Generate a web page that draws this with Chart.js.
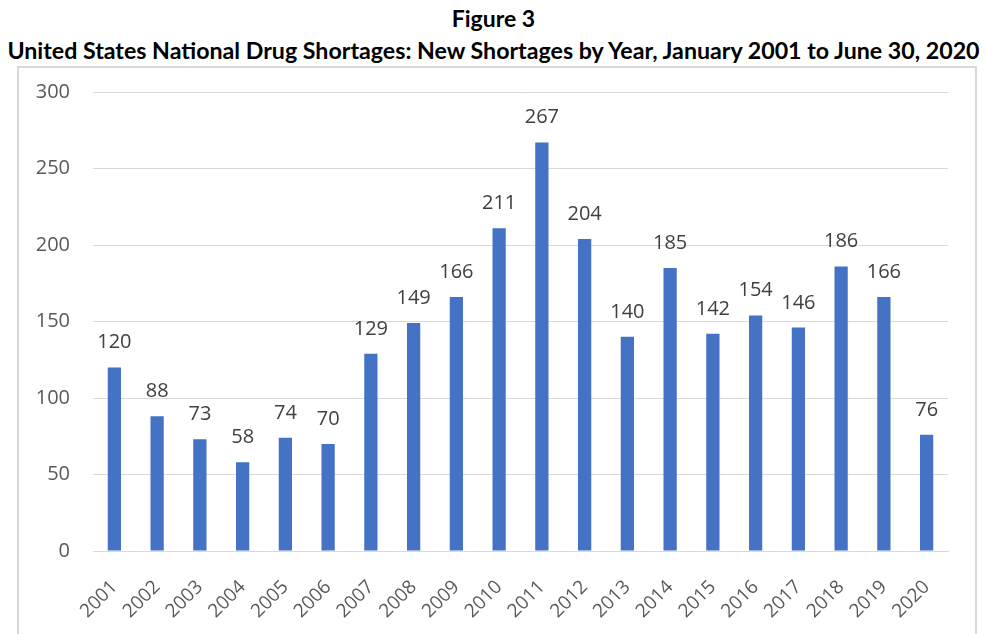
<!DOCTYPE html>
<html>
<head>
<meta charset="utf-8">
<script src="https://cdn.jsdelivr.net/npm/chart.js@4/dist/chart.umd.min.js"></script>
<style>
  html, body { margin: 0; padding: 0; background: #fff; }
  body { width: 987px; height: 634px; position: relative; overflow: hidden; }
  .title { position: absolute; left: 0; width: 987px; text-align: center; font-family: Lato, "Open Sans", sans-serif; font-weight: bold; color: #000; white-space: nowrap; line-height: 28px; }
  #t1 { top: 4px; font-size: 23px; }
  #t2 { top: 36px; font-size: 23.2px; }
  #box { position: absolute; left: 17px; top: 66px; width: 960px; height: 600px; border: 2px solid #d9d9d9; box-sizing: border-box; }
  #chart { position: absolute; left: 0; top: 0; }
</style>
</head>
<body>
<div class="title" id="t1">Figure 3</div>
<div class="title" id="t2">United States National Drug Shortages: New Shortages by Year, January 2001 to June 30, 2020</div>
<div id="box"><canvas id="chart" width="956" height="566"></canvas></div>
<script>
const years = ["2001", "2002", "2003", "2004", "2005", "2006", "2007", "2008", "2009", "2010",
  "2011", "2012", "2013", "2014", "2015", "2016", "2017", "2018", "2019", "2020"];
const newShortages = [120, 88, 73, 58, 74, 70, 129, 149, 166, 211, 267, 204, 140, 185, 142, 154, 146, 186, 166, 76];
const yTicks = [0, 50, 100, 150, 200, 250, 300];

// values above each bar
const valueLabels = {
  id: "valueLabels",
  afterDatasetsDraw(chart) {
    const ctx = chart.ctx;
    const meta = chart.getDatasetMeta(0);
    ctx.save();
    ctx.font = "20px 'Open Sans'";
    ctx.fillStyle = "#404040";
    ctx.textAlign = "center";
    ctx.textBaseline = "alphabetic";
    meta.data.forEach((bar, i) => {
      ctx.fillText(String(newShortages[i]), bar.x, bar.y - 19);
    });
    ctx.restore();
  }
};

new Chart(document.getElementById("chart"), {
  type: "bar",
  data: {
    labels: years,
    datasets: [{
      data: newShortages,
      backgroundColor: "#4472C4",
      barPercentage: 0.31,
      categoryPercentage: 1
    }]
  },
  options: {
    responsive: false,
    maintainAspectRatio: false,
    animation: false,
    layout: { padding: { top: 24, right: 27, left: 0, bottom: 0 } },
    plugins: {
      legend: { display: false },
      tooltip: { enabled: false }
    },
    scales: {
      x: {
        grid: { display: false, drawTicks: false },
        border: { color: "#d9d9d9", width: 1 },
        ticks: {
          color: "#595959",
          font: { family: "'Open Sans'", size: 19 },
          maxRotation: 45,
          minRotation: 45,
          padding: 25
        },
        afterFit(scale) {
          scale.height = 83;
          scale.paddingLeft = 0;
          scale.paddingRight = 0;
        }
      },
      y: {
        min: 0,
        max: 300,
        afterBuildTicks(scale) { scale.ticks = yTicks.map(v => ({ value: v })); },
        grid: { color: "#d9d9d9", drawTicks: false },
        border: { display: false },
        ticks: {
          color: "#595959",
          font: { family: "'Open Sans'", size: 20 },
          padding: 23
        },
        afterFit(scale) {
          scale.width = 74;
          scale.paddingTop = 0;
          scale.paddingBottom = 0;
        }
      }
    }
  },
  plugins: [valueLabels]
});
</script>
</body>
</html>
